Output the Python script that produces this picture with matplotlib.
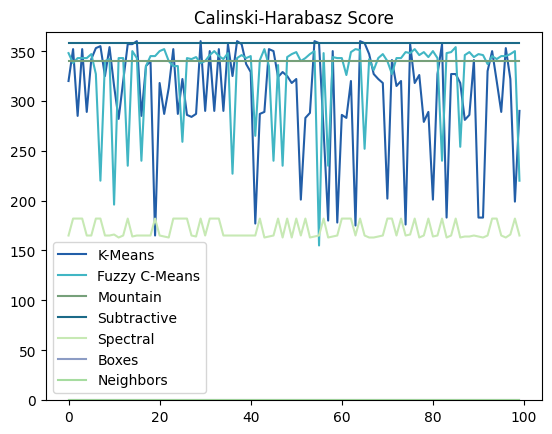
import matplotlib
matplotlib.use("Agg")
import matplotlib.pyplot as plt
import numpy as np

# ----------------------------
# Scores per run
# ----------------------------
runs = np.arange(100)

kmeans = [320, 352, 285, 352, 289, 342, 353, 355, 325, 354,
          315, 282, 320, 357, 357, 360, 285, 335, 340, 165,
          318, 287, 313, 352, 287, 322, 286, 284, 287, 360,
          290, 350, 290, 352, 290, 357, 325, 360, 357, 337,
          329, 177, 287, 289, 352, 350, 324, 329, 325, 318,
          322, 201, 283, 288, 360, 358, 270, 180, 350, 178,
          286, 283, 320, 175, 360, 358, 347, 327, 322, 318,
          202, 341, 315, 320, 176, 357, 318, 326, 279, 289,
          201, 327, 357, 183, 327, 327, 318, 281, 286, 341,
          183, 183, 330, 350, 320, 289, 353, 322, 199, 290]

fuzzy = [348, 338, 343, 343, 343, 347, 327, 220, 340, 342,
         196, 343, 343, 235, 350, 343, 240, 335, 345, 345,
         350, 352, 340, 335, 335, 259, 343, 342, 344, 338,
         340, 346, 350, 345, 342, 348, 227, 343, 346, 343,
         345, 265, 341, 352, 335, 240, 336, 235, 344, 347,
         349, 340, 343, 347, 350, 155, 348, 235, 344, 343,
         343, 326, 349, 352, 351, 252, 342, 331, 343, 347,
         340, 327, 343, 343, 349, 348, 352, 346, 349, 344,
         350, 343, 240, 348, 349, 354, 254, 346, 349, 344,
         347, 346, 337, 345, 342, 345, 345, 347, 350, 220]

mountain = [340.3] * 100
subtractive = [358.5] * 100

spectral = [165, 182, 182, 182, 165, 165, 182, 182, 165, 165,
            166, 163, 165, 182, 164, 165, 165, 165, 165, 182,
            165, 164, 163, 182, 182, 182, 182, 165, 164, 182,
            165, 182, 182, 182, 165, 165, 165, 165, 165, 165,
            165, 165, 182, 163, 164, 165, 182, 163, 182, 163,
            182, 165, 182, 163, 164, 165, 182, 163, 164, 165,
            182, 182, 182, 165, 182, 165, 163, 163, 164, 165,
            182, 182, 165, 182, 165, 166, 182, 163, 165, 182,
            164, 165, 182, 163, 165, 182, 163, 164, 164, 165,
            164, 163, 165, 182, 182, 165, 163, 166, 182, 165]

boxes = [0] * 100
neighbors = [0] * 100

series = [
    ("K-Means", kmeans, "#225ea8"),
    ("Fuzzy C-Means", fuzzy, "#41b6c4"),
    ("Mountain", mountain, "#76a07a"),
    ("Subtractive", subtractive, "#1b6a88"),
    ("Spectral", spectral, "#c7e9b4"),
    ("Boxes", boxes, "#8c9cc4"),
    ("Neighbors", neighbors, "#a6dca0"),
]

fig = plt.figure(figsize=(5.52, 4.35), dpi=100)
ax = fig.add_axes([0.0833, 0.0782, 0.8986, 0.8467])

for name, values, color in series:
    ax.plot(runs, values, color=color, label=name)

ax.set_ylim(0, 369.5)
ax.set_title("Calinski-Harabasz Score")
ax.legend(loc="lower left")

fig.savefig("out.png", dpi=100)
